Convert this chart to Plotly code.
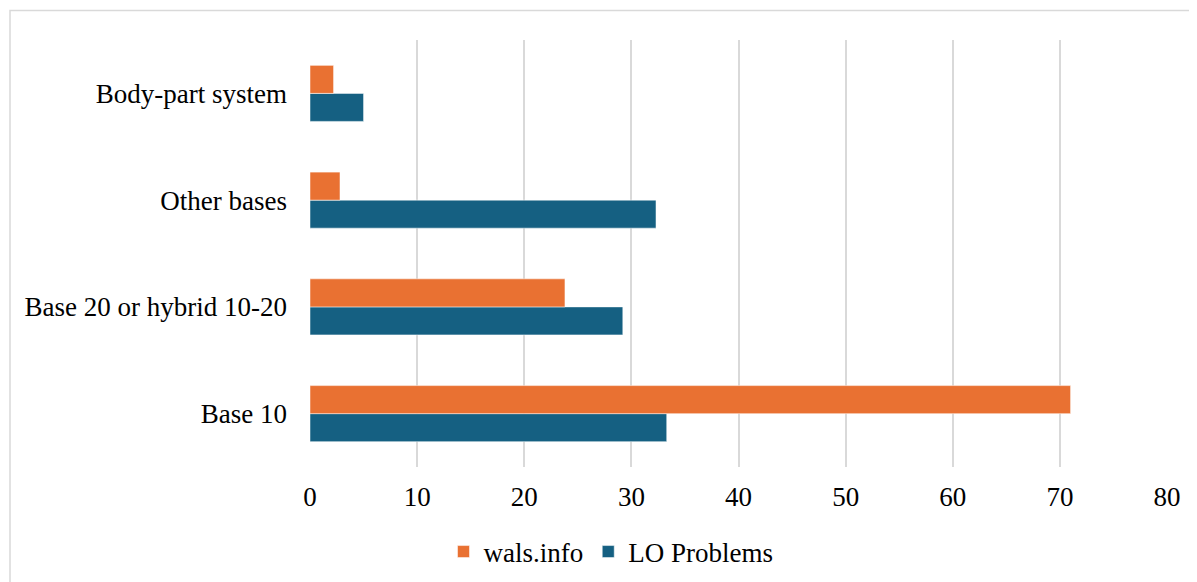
import plotly.graph_objects as go

categories = ["Base 10", "Base 20 or hybrid 10-20", "Other bases", "Body-part system"]
wals_info = [71.0, 23.8, 2.8, 2.2]
lo_problems = [33.3, 29.2, 32.3, 5.0]
x_ticks = [0, 10, 20, 30, 40, 50, 60, 70, 80]

W, H = 1197, 582
OFF = 8  # page body margin
ML, MR, MT, MB = 310 - OFF, W - (1167 - OFF), 40 - OFF, H - (467 - OFF)
PW, PH = W - ML - MR, H - MT - MB

def px_x(px):
    return (px - OFF - ML) / PW

def px_y(py):
    return (H - MB - (py - OFF)) / PH

font = "Liberation Serif, Times New Roman, serif"

fig = go.Figure()
fig.add_trace(go.Bar(
    y=categories, x=lo_problems, name="LO Problems", orientation="h",
    marker=dict(color="#156082", line=dict(color="rgba(255,255,255,0.5)", width=1)),
))
fig.add_trace(go.Bar(
    y=categories, x=wals_info, name="wals.info", orientation="h",
    marker=dict(color="#E97132", line=dict(color="rgba(255,255,255,0.5)", width=1)),
))

fig.update_layout(
    width=W, height=H,
    margin=dict(l=ML, r=MR, t=MT, b=MB),
    paper_bgcolor="white", plot_bgcolor="white",
    barmode="group", bargap=0.475, bargroupgap=0,
    font=dict(family=font, size=27, color="#000000"),
    showlegend=True,
    legend=dict(orientation="h", x=px_x(611), xanchor="center", y=px_y(552), yanchor="middle",
                traceorder="reversed", font=dict(family=font, size=27, color="#000000"), itemwidth=30),
    xaxis=dict(range=[0, 80], tickvals=x_ticks, showgrid=True, gridcolor="#d9d9d9", gridwidth=1.5,
               zeroline=False, showline=False, ticks="", ticklabelstandoff=11,
               tickfont=dict(family=font, size=27)),
    yaxis=dict(categoryorder="array", categoryarray=categories, showgrid=False, zeroline=False,
               showline=False, ticks="", ticklabelstandoff=22,
               tickfont=dict(family=font, size=27)),
    shapes=[dict(type="rect", xref="paper", yref="paper",
                 x0=px_x(10), x1=px_x(1205), y0=px_y(600), y1=px_y(10.5),
                 line=dict(color="#d9d9d9", width=1.5), fillcolor="rgba(0,0,0,0)", layer="below")],
)

fig.write_html("out.html")
